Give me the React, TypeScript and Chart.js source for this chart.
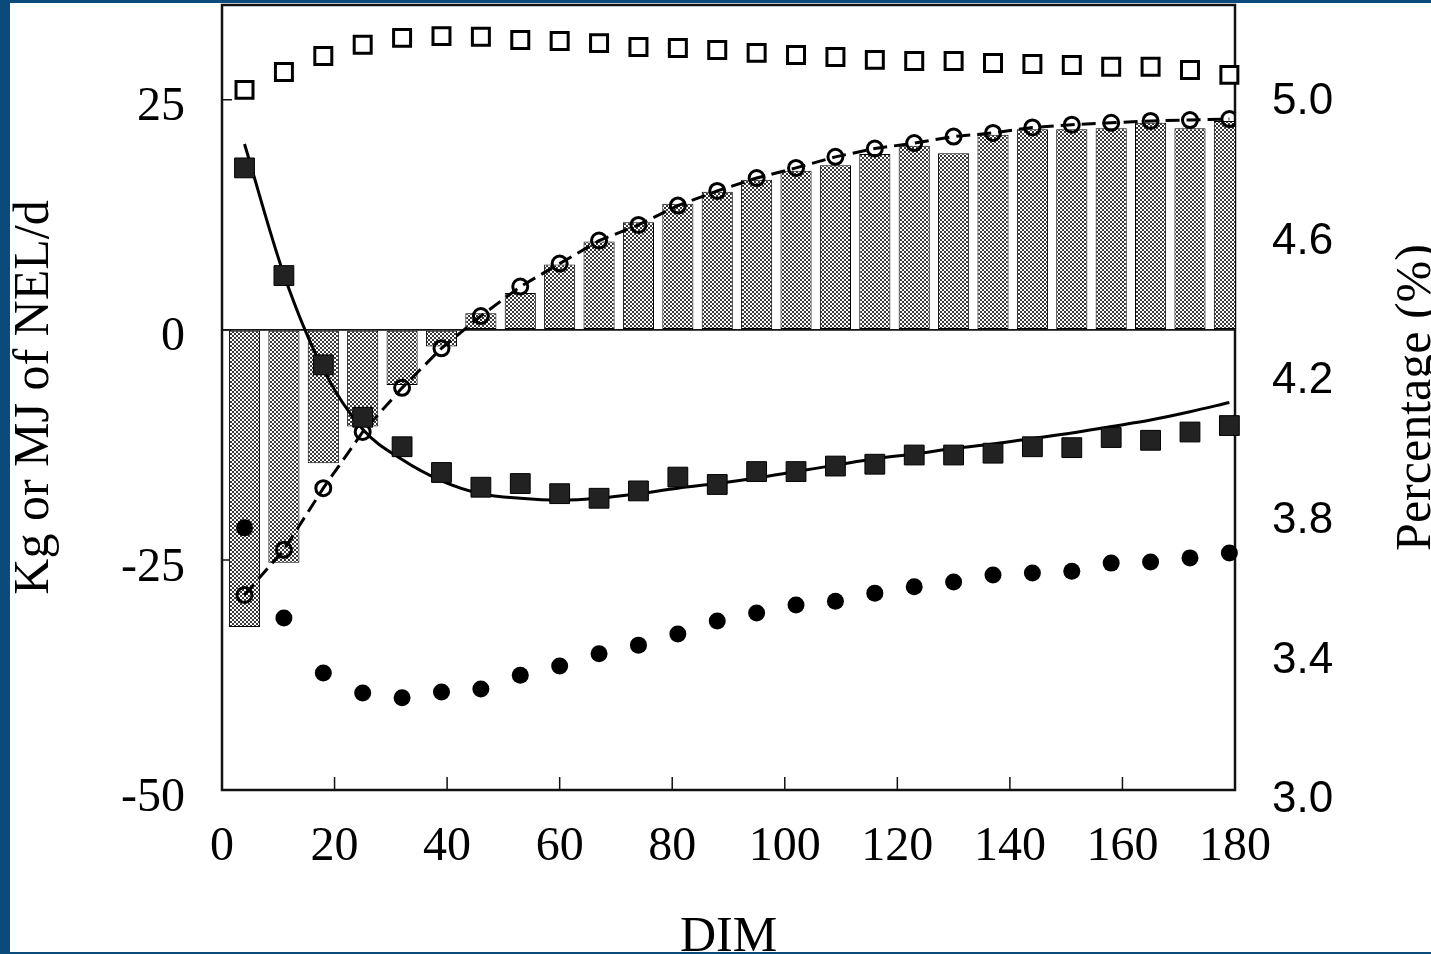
import React, { useEffect, useRef } from "react";
import { Chart, registerables } from "chart.js";

Chart.register(...registerables);

// Days in milk (weekly means)
const dim = [4, 11, 18, 25, 32, 39, 46, 53, 60, 67, 74, 81, 88, 95, 102, 109, 116, 123, 130, 137, 144, 151, 158, 165, 172, 179];

// Left axis (Kg or MJ of NEL/d)
const energyBalance = [-32.3, -25.3, -14.5, -10.5, -6.0, -1.8, 1.8, 4.0, 7.1, 9.6, 11.7, 13.7, 15.0, 16.3, 17.3, 17.9, 19.1, 20.0, 19.2, 21.2, 21.8, 21.8, 21.9, 22.5, 21.9, 22.7];
const openCircles = [-28.8, -23.9, -17.2, -11.1, -6.3, -2.0, 1.5, 4.7, 7.2, 9.7, 11.4, 13.5, 15.1, 16.5, 17.6, 18.8, 19.7, 20.3, 21.0, 21.4, 22.0, 22.3, 22.5, 22.7, 22.8, 22.9];
const filledSquares = [17.6, 5.9, -3.8, -9.5, -12.7, -15.5, -17.1, -16.7, -17.8, -18.3, -17.5, -16.0, -16.8, -15.4, -15.4, -14.8, -14.6, -13.6, -13.6, -13.4, -12.7, -12.8, -11.7, -12.0, -11.1, -10.4];
const fittedCurve = [20.2, 6.0, -4.3, -10.8, -14.1, -16.4, -17.8, -18.3, -18.5, -18.3, -17.8, -17.2, -16.7, -16.1, -15.4, -14.7, -14.0, -13.5, -12.9, -12.4, -11.8, -11.2, -10.5, -9.8, -8.9, -7.9];

// Right axis (Percentage %)
const openSquaresPct = [5.029, 5.08, 5.126, 5.158, 5.178, 5.183, 5.181, 5.172, 5.169, 5.163, 5.152, 5.149, 5.143, 5.135, 5.129, 5.123, 5.115, 5.112, 5.112, 5.106, 5.103, 5.1, 5.095, 5.095, 5.086, 5.072];
const filledCirclesPct = [3.774, 3.516, 3.358, 3.301, 3.287, 3.304, 3.312, 3.352, 3.378, 3.413, 3.438, 3.47, 3.507, 3.53, 3.553, 3.564, 3.587, 3.605, 3.619, 3.639, 3.645, 3.65, 3.673, 3.676, 3.688, 3.702];

// Axis ticks
const xTicks = [0, 20, 40, 60, 80, 100, 120, 140, 160, 180];
const leftTicks = [-50, -25, 0, 25];
const rightTicks = [3.0, 3.4, 3.8, 4.2, 4.6, 5.0];

const xTitle = "DIM";
const leftTitle = "Kg or MJ of NEL/d";
const rightTitle = "Percentage (%)";

const SERIF = '"Liberation Serif", "DejaVu Serif", serif';
const SANS = '"Liberation Sans", Arial, sans-serif';

function makePattern(): CanvasPattern | string {
  const c = document.createElement("canvas");
  c.width = 4;
  c.height = 4;
  const g = c.getContext("2d");
  if (!g) return "#888";
  g.fillStyle = "#383838";
  g.fillRect(0, 0, 4, 4);
  g.fillStyle = "#ffffff";
  g.fillRect(0, 0, 2, 2);
  g.fillRect(2, 2, 2, 2);
  const p = g.createPattern(c, "repeat");
  return p || "#888";
}

const pts = (ys: number[]) => dim.map((x, i) => ({ x, y: ys[i] }));

const noPad = (s: any) => {
  s.paddingTop = 0;
  s.paddingBottom = 0;
  s.paddingLeft = 0;
  s.paddingRight = 0;
};

export default function App() {
  const ref = useRef<HTMLCanvasElement | null>(null);

  useEffect(() => {
    const canvas = ref.current;
    if (!canvas) return;

    const decor = {
      id: "decor",
      beforeDatasetsDraw(chart: any) {
        const { ctx, chartArea: a, scales } = chart;
        ctx.save();
        ctx.strokeStyle = "#111";
        ctx.lineWidth = 2.5;
        ctx.strokeRect(a.left, a.top, a.right - a.left, a.bottom - a.top);
        ctx.lineWidth = 1.5;
        ctx.beginPath();
        for (const v of xTicks) {
          if (v <= xTicks[0] || v >= xTicks[xTicks.length - 1]) continue;
          const px = scales.x.getPixelForValue(v);
          ctx.moveTo(px, a.bottom);
          ctx.lineTo(px, a.bottom - 13);
        }
        for (const v of leftTicks) {
          if (v === leftTicks[0]) continue;
          const py = scales.y.getPixelForValue(v);
          ctx.moveTo(a.left, py);
          ctx.lineTo(a.left + 10, py);
        }
        ctx.stroke();
        ctx.restore();
      },
      afterDraw(chart: any) {
        const { ctx, chartArea: a } = chart;
        const cy = (a.top + a.bottom) / 2;
        const cx = (a.left + a.right) / 2;
        ctx.save();
        ctx.fillStyle = "#000";
        ctx.font = `50px ${SERIF}`;
        ctx.textAlign = "center";
        ctx.textBaseline = "alphabetic";
        ctx.fillText(xTitle, cx, chart.height - 1);
        ctx.save();
        ctx.translate(38, cy);
        ctx.rotate(-Math.PI / 2);
        ctx.fillText(leftTitle, 0, 0);
        ctx.restore();
        ctx.save();
        ctx.translate(chart.width - 1, cy);
        ctx.rotate(-Math.PI / 2);
        ctx.fillText(rightTitle, 0, 0);
        ctx.restore();
        ctx.restore();
      },
    };

    const chart = new Chart(canvas, {
      type: "bar",
      data: {
        datasets: [
          {
            type: "line",
            data: pts(openSquaresPct),
            yAxisID: "y2",
            showLine: false,
            pointStyle: "rect",
            pointRadius: 12,
            pointBorderWidth: 3,
            pointBorderColor: "#000",
            pointBackgroundColor: "#fff",
            clip: false,
            order: 1,
          } as any,
          {
            type: "line",
            data: pts(filledCirclesPct),
            yAxisID: "y2",
            showLine: false,
            pointStyle: "circle",
            pointRadius: 8.5,
            pointBorderWidth: 0,
            pointBackgroundColor: "#000",
            clip: false,
            order: 1,
          } as any,
          {
            type: "line",
            data: pts(fittedCurve),
            yAxisID: "y",
            borderColor: "#000",
            borderWidth: 3,
            cubicInterpolationMode: "monotone",
            pointRadius: 0,
            fill: false,
            order: 2,
          } as any,
          {
            type: "line",
            data: pts(filledSquares),
            yAxisID: "y",
            showLine: false,
            pointStyle: "rect",
            pointRadius: 14,
            pointBorderWidth: 1,
            pointBorderColor: "#000",
            pointBackgroundColor: "#222",
            clip: false,
            order: 1,
          } as any,
          {
            type: "line",
            data: pts(openCircles),
            yAxisID: "y",
            borderColor: "#000",
            borderWidth: 3,
            borderDash: [14, 7],
            tension: 0,
            pointStyle: "circle",
            pointRadius: 7.5,
            pointBorderWidth: 3,
            pointBorderColor: "#000",
            pointBackgroundColor: "rgba(0,0,0,0)",
            fill: false,
            order: 2,
          } as any,
          {
            type: "bar",
            data: pts(energyBalance),
            yAxisID: "y",
            backgroundColor: makePattern(),
            borderColor: "#000",
            borderWidth: 1,
            borderSkipped: false,
            barPercentage: 0.79,
            categoryPercentage: 1,
            order: 10,
          } as any,
        ],
      },
      options: {
        responsive: false,
        devicePixelRatio: 1,
        animation: false,
        layout: { autoPadding: false, padding: { top: 2, left: 0, right: 0, bottom: 0 } },
        plugins: {
          legend: { display: false },
          tooltip: { enabled: false },
        },
        events: [],
        scales: {
          x: {
            type: "linear",
            position: "bottom",
            min: 0,
            max: 180,
            offset: false,
            grid: { display: false, drawTicks: false },
            border: { display: false },
            afterBuildTicks: (s: any) => {
              s.ticks = xTicks.map((v) => ({ value: v }));
            },
            afterFit: (s: any) => {
              s.height = 162;
              noPad(s);
            },
            ticks: {
              autoSkip: false,
              maxRotation: 0,
              minRotation: 0,
              padding: 29,
              color: "#000",
              font: { family: SERIF, size: 48 },
            },
          },
          y: {
            type: "linear",
            position: "left",
            min: -50,
            max: 35.3,
            grid: {
              display: true,
              drawTicks: false,
              lineWidth: 1.8,
              color: (c: any) => (c.tick && c.tick.value === 0 ? "#111" : "rgba(0,0,0,0)"),
            },
            border: { display: false },
            afterBuildTicks: (s: any) => {
              s.ticks = leftTicks.map((v) => ({ value: v }));
            },
            afterFit: (s: any) => {
              s.width = 212;
              noPad(s);
            },
            ticks: {
              padding: 37,
              labelOffset: 8,
              color: "#000",
              font: { family: SERIF, size: 48 },
            },
          },
          y2: {
            type: "linear",
            position: "right",
            min: 3.0229,
            max: 5.2722,
            grid: { display: false, drawTicks: false },
            border: { display: false },
            afterBuildTicks: (s: any) => {
              s.ticks = rightTicks.map((v) => ({ value: v }));
            },
            afterFit: (s: any) => {
              s.width = 196;
              noPad(s);
            },
            ticks: {
              padding: 37,
              labelOffset: 2,
              color: "#000",
              font: { family: SANS, size: 44 },
              callback: (v: any) => Number(v).toFixed(1),
            },
          },
        },
      } as any,
      plugins: [decor],
    });

    return () => chart.destroy();
  }, []);

  return (
    <div
      style={{
        position: "fixed",
        left: 0,
        top: 0,
        width: 1431,
        height: 954,
        background: "#0b4b7b",
        overflow: "hidden",
      }}
    >
      <div
        style={{
          position: "absolute",
          left: 10,
          top: 3,
          width: 1421,
          height: 949,
          background: "#fff",
        }}
      >
        <canvas ref={ref} width={1421} height={949} style={{ display: "block", width: 1421, height: 949 }} />
      </div>
    </div>
  );
}
